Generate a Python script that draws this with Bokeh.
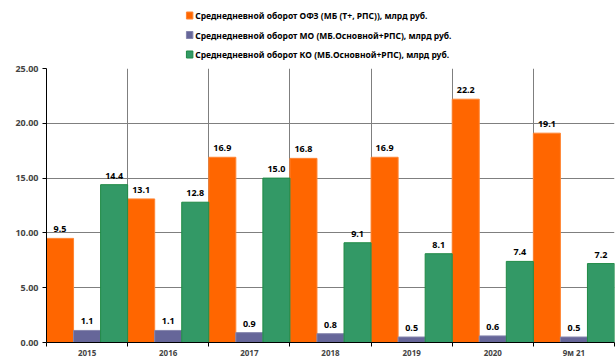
from bokeh.plotting import figure
from bokeh.layouts import column
from bokeh.models import (ColumnDataSource, FixedTicker, Range1d, NumeralTickFormatter, LabelSet)
from bokeh.core.properties import value
from bokeh.embed import file_html
from bokeh.resources import INLINE

# Average daily turnover, bn RUB
periods = ["2015", "2016", "2017", "2018", "2019", "2020", "9м 21"]
ofz = [9.5, 13.1, 16.9, 16.8, 16.9, 22.2, 19.1]
mo = [1.1, 1.1, 0.9, 0.8, 0.5, 0.6, 0.5]
ko = [14.4, 12.8, 15.0, 9.1, 8.1, 7.4, 7.2]
series_names = [
    "Среднедневной оборот ОФЗ (МБ (Т+, РПС)), млрд руб.",
    "Среднедневной оборот МО (МБ.Основной+РПС), млрд руб.",
    "Среднедневной оборот КО (МБ.Основной+РПС), млрд руб.",
]
y_ticks = [0, 5, 10, 15, 20, 25]

FONT = "Noto Sans"
fills = ["#FF6600", "#666699", "#339966"]
edges = ["#FF8533", "#8585AD", "#1F8A45"]

W = 615
LEG_H = 62

# ---- legend strip (pixel-space figure above the chart) ----
leg = figure(width=W, height=LEG_H, x_range=Range1d(0, W), y_range=Range1d(LEG_H, 0),
             output_backend="svg", toolbar_location=None,
             min_border=0, x_axis_type=None, y_axis_type=None)
leg.outline_line_color = None
leg.grid.visible = False
row_y = [15 + 19.5 * i for i in range(len(series_names))]
leg.rect(x=155, y=row_y, width=7, height=7, fill_color=fills, line_color=edges)
leg.text(x=161, y=row_y, text=series_names, text_font=value(FONT), text_font_style="bold",
         text_font_size="8.5px", text_baseline="middle", text_align="left", text_color="black")

# ---- bar chart ----
n = len(periods)
bw = 1 / 3
p = figure(width=W, height=360 - LEG_H, x_range=Range1d(0, n), y_range=Range1d(0, 25),
           output_backend="svg", toolbar_location=None,
           min_border_left=46, min_border_right=1, min_border_top=6, min_border_bottom=0)
p.outline_line_color = None

for k, vals in enumerate([ofz, mo, ko]):
    xs = [i + bw * (k + 0.5) for i in range(n)]
    src = ColumnDataSource(dict(x=xs, top=vals, txt=[f"{v:.1f}" for v in vals]))
    p.vbar(x="x", top="top", width=bw, source=src, fill_color=fills[k],
           line_color=edges[k], line_width=1)
    p.add_layout(LabelSet(x="x", y="top", text="txt", source=src, y_offset=6,
                          text_align="center", text_baseline="bottom",
                          text_font=value(FONT), text_font_style="bold",
                          text_font_size="9px", text_color="black"))

# x axis: boundaries as ticks/grid, period names at centres
centres = [i + 0.5 for i in range(n)]
p.xaxis.ticker = FixedTicker(ticks=centres, minor_ticks=list(range(n + 1)))
p.xaxis.major_label_overrides = {c: s for c, s in zip(centres, periods)}
p.xaxis.major_tick_out = 0
p.xaxis.major_tick_in = 0
p.xaxis.minor_tick_out = 4
p.xaxis.minor_tick_in = 0
p.xaxis.major_label_text_font = FONT
p.xaxis.major_label_text_font_style = "bold"
p.xaxis.major_label_text_font_size = "8px"
p.xaxis.major_label_text_line_height = 0.8
p.xaxis.major_label_standoff = 0
p.xaxis.axis_line_color = "black"
p.xaxis.minor_tick_line_color = "black"
p.xgrid.ticker = FixedTicker(ticks=list(range(1, n)))
p.xgrid.grid_line_color = "#7f7f7f"

p.yaxis.ticker = FixedTicker(ticks=y_ticks)
p.yaxis.formatter = NumeralTickFormatter(format="0.00")
p.yaxis.major_tick_out = 4
p.yaxis.major_tick_in = 0
p.yaxis.minor_tick_line_color = None
p.yaxis.major_label_text_font = FONT
p.yaxis.major_label_text_font_style = "bold"
p.yaxis.major_label_text_font_size = "9px"
p.yaxis.major_label_standoff = 4
p.yaxis.axis_line_color = "black"
p.ygrid.grid_line_color = "#7f7f7f"

open("out.html", "w").write(file_html(column(leg, p), INLINE))
